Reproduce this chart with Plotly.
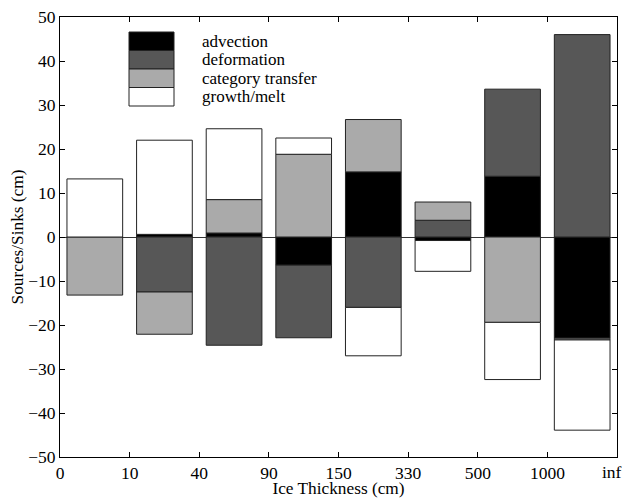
import plotly.graph_objects as go

categories = ["0-10", "10-40", "40-90", "90-150", "150-330", "330-500", "500-1000", "1000-inf"]
tick_labels = ["0", "10", "40", "90", "150", "330", "500", "1000", "inf"]

advection = [0.0, 0.6, 0.9, -6.4, 14.8, -0.8, 13.8, -23.0]
deformation = [0.0, -12.5, -24.6, -16.5, -16.0, 3.8, 19.8, 46.0]
category_transfer = [-13.2, -9.6, 7.6, 18.8, 11.9, 4.15, -19.4, -0.4]
growth_melt = [13.2, 21.4, 16.1, 3.7, -11.0, -7.0, -13.0, -20.5]

series = [
    ("advection", advection, "#000000"),
    ("deformation", deformation, "#575757"),
    ("category transfer", category_transfer, "#aaaaaa"),
    ("growth/melt", growth_melt, "#ffffff"),
]

xpos = [i + 0.5 for i in range(len(categories))]

FONT = "Liberation Serif"
FS = 17.5

fig = go.Figure()
for name, vals, col in series:
    fig.add_trace(go.Bar(
        x=xpos, y=vals, name=name, width=0.8,
        marker=dict(color=col, line=dict(color="#222222", width=1)),
        showlegend=False, hoverinfo="skip",
    ))

# legend drawn as stacked boxes (paper coordinates)
L, R, T, B = 60, 617, 17, 457
pw, ph = float(R - L), float(B - T)
x0, x1 = (129 - L) / pw, (174 - L) / pw
top = (B - 32) / ph
h = 18.5 / ph
for i, (name, vals, col) in enumerate(series):
    y1 = top - i * h
    y0 = y1 - h
    fig.add_shape(type="rect", xref="paper", yref="paper", x0=x0, x1=x1, y0=y0, y1=y1,
                  fillcolor=col, line=dict(color="#222222", width=1))
    fig.add_annotation(xref="paper", yref="paper", x=(200 - L) / pw, y=(y0 + y1) / 2,
                       text=name, showarrow=False, xanchor="left", yanchor="middle",
                       font=dict(family=FONT, size=17, color="black"))

# last tick label placed so it stays inside the page, as in the original
tick_text_shown = tick_labels[:-1] + [""]
fig.add_annotation(xref="paper", yref="paper", x=(624 - L) / pw, y=-(471.5 - B) / ph,
                   text=tick_labels[-1], showarrow=False, xanchor="right", yanchor="middle",
                   font=dict(family=FONT, size=FS, color="black"))

fig.update_layout(
    template="none",
    width=624, height=498, autosize=False,
    margin=dict(l=L, r=624 - R, t=T, b=498 - B, pad=0, autoexpand=False),
    barmode="relative",
    plot_bgcolor="white", paper_bgcolor="white",
    font=dict(family=FONT, size=FS, color="black"),
    xaxis=dict(
        range=[0, 8], tickmode="array", tickvals=list(range(9)), ticktext=tick_text_shown,
        ticks="inside", ticklen=5, tickcolor="black", mirror="ticks",
        ticklabeloverflow="allow", automargin=False,
        showline=True, linecolor="black", linewidth=1, showgrid=False, zeroline=False,
        title=dict(text="Ice Thickness (cm)", standoff=2, font=dict(family=FONT, size=17.3)),
    ),
    yaxis=dict(
        range=[-50, 50], dtick=10, tick0=0, automargin=False,
        ticks="inside", ticklen=5, tickcolor="black", mirror="ticks",
        showline=True, linecolor="black", linewidth=1, showgrid=False,
        zeroline=True, zerolinecolor="#333333", zerolinewidth=1,
        title=dict(text="Sources/Sinks (cm)", standoff=0, font=dict(family=FONT, size=17.3)),
    ),
)

fig.write_html(
    "out.html",
    config={"responsive": False, "displayModeBar": False},
    post_script="document.body.style.margin='0px';document.body.style.overflow='hidden';",
)
